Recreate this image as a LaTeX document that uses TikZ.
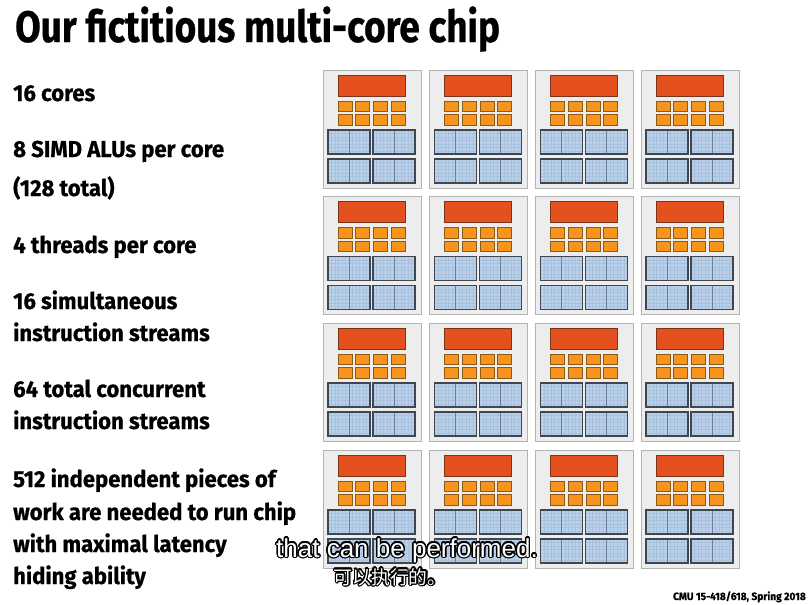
\documentclass[tikz,border=0pt]{standalone}
\usepackage{fontspec}
\setmainfont{Fira Sans}[FakeStretch=0.96,BoldFeatures={FakeBold=0.6}]
\newfontfamily\titlefont{Fira Sans}[FakeStretch=0.84,BoldFeatures={FakeBold=0.6}]
\newfontfamily\subfont{Liberation Sans}
\newfontfamily\cjk{Noto Sans CJK SC}
\usepackage[copies]{contour}
\contourlength{1.4pt}
\contournumber{16}
\definecolor{tilefill}{HTML}{EDEDED}
\definecolor{tiledraw}{HTML}{B3B3B3}
\definecolor{barfill}{HTML}{E4511E}
\definecolor{bardraw}{HTML}{7A3418}
\definecolor{sqfill}{HTML}{F7941D}
\definecolor{sqdraw}{HTML}{8C5A14}
\definecolor{bluefill}{HTML}{B9D1EA}
\definecolor{bluedraw}{HTML}{3F4650}
\definecolor{gridc}{HTML}{A9C1DC}
\definecolor{divc}{HTML}{6F7F93}
\tikzset{
  tilebox/.style={fill=tilefill,draw=tiledraw,line width=1pt},
  barbox/.style={fill=barfill,draw=bardraw,line width=0.9pt},
  sqbox/.style={fill=sqfill,draw=sqdraw,line width=0.8pt},
  bodytext/.style={anchor=base west,inner sep=0pt,font=\fontsize{23}{26}\selectfont\bfseries},
  titletext/.style={anchor=base west,inner sep=0pt,font=\titlefont\fontsize{44}{48}\selectfont\bfseries},
  pics/core/.style={code={
    \draw[tilebox] (0,0) rectangle (98,118);
    \draw[barbox] (15,5) rectangle (82,26);
    \foreach \k in {0,1,2,3}{
      \foreach \r in {31,44.5}{
        \draw[sqbox] ({15+17.7*\k},\r) rectangle ++(14,10.5);
      }
    }
    \foreach \bx in {5,50}{
      \foreach \by in {60,89}{
        \fill[bluefill] (\bx,\by) rectangle ++(42,24);
        \begin{scope}
          \clip (\bx,\by) rectangle ++(42,24);
          \foreach \g in {3.5,7,...,42}{
            \draw[gridc,line width=0.25pt] ({\bx+\g},\by) -- ++(0,24);
          }
          \foreach \g in {3.5,7,...,24}{
            \draw[gridc,line width=0.25pt] (\bx,{\by+\g}) -- ++(42,0);
          }
        \end{scope}
        \draw[divc,line width=0.7pt] ({\bx+21},\by) -- ++(0,24);
        \draw[bluedraw,line width=1.3pt] (\bx,\by) rectangle ++(42,24);
      }
    }
  }}
}
\begin{document}
\begin{tikzpicture}[x=1pt,y=-1pt]
\useasboundingbox[fill=white] (0,0) rectangle (809,605);
% title
\node[titletext] (title) at (15,42) {Our fictitious multi-core chip};
% left text
\node[bodytext] (t1) at (13,101) {16 cores};
\node[bodytext] (t2) at (13,157) {8 SIMD ALUs per core};
\node[bodytext] (t3) at (13,196) {(128 total)};
\node[bodytext] (t4) at (13,253) {4 threads per core};
\node[bodytext] (t5) at (13,309) {16 simultaneous};
\node[bodytext] (t6) at (13,341) {instruction streams};
\node[bodytext] (t7) at (13,397) {64 total concurrent};
\node[bodytext] (t8) at (13,429) {instruction streams};
\node[bodytext] (t9) at (13,487) {512 independent pieces of};
\node[bodytext] (t10) at (13,520) {work are needed to run chip};
\node[bodytext] (t11) at (13,552) {with maximal latency};
\node[bodytext] (t12) at (13,584) {hiding ability};
% cores
\foreach \cx [count=\i] in {323,429.5,535.5,641}{
  \foreach \cy [count=\j] in {70,196.5,323,450}{
    \pic (core\i\j) at (\cx,\cy) {core};
  }
}
% subtitles
\node[anchor=base,inner sep=0pt,font=\subfont\fontsize{26}{28}\selectfont,text=white] (sub1) at (407,557) {\contour{black}{that can be performed.}};
\node[anchor=base,inner sep=0pt,font=\cjk\fontsize{18.8}{21}\selectfont,text=white] (sub2) at (390,584) {\contour{black}{可以执行的。}};
% footer
\node[anchor=base east,inner sep=0pt,font=\fontsize{10.6}{13}\selectfont\bfseries] (foot) at (806,600) {CMU 15-418/618, Spring 2018};
\end{tikzpicture}
\end{document}
